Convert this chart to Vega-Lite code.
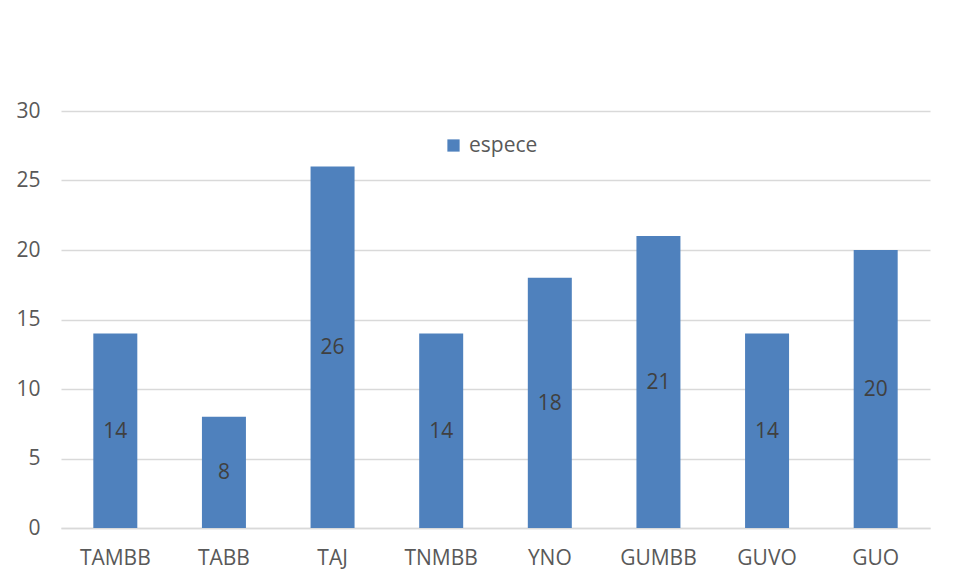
{
  "$schema": "https://vega.github.io/schema/vega-lite/v6.json",
  "width": 869,
  "height": 417,
  "autosize": {"type": "none"},
  "padding": {"left": 61, "top": 111, "right": 29, "bottom": 53},
  "background": "#ffffff",
  "config": {
    "view": {"stroke": null},
    "font": "Open Sans",
    "axis": {"labelFont": "Open Sans", "labelFontSize": 21, "labelColor": "#595959", "ticks": false, "title": null}
  },
  "data": {
    "values": [
      {"site": "TAMBB", "n": 14, "serie": "espece"},
      {"site": "TABB", "n": 8, "serie": "espece"},
      {"site": "TAJ", "n": 26, "serie": "espece"},
      {"site": "TNMBB", "n": 14, "serie": "espece"},
      {"site": "YNO", "n": 18, "serie": "espece"},
      {"site": "GUMBB", "n": 21, "serie": "espece"},
      {"site": "GUVO", "n": 14, "serie": "espece"},
      {"site": "GUO", "n": 20, "serie": "espece"}
    ]
  },
  "encoding": {
    "x": {
      "field": "site",
      "type": "nominal",
      "sort": null,
      "scale": {"paddingInner": 0.595, "paddingOuter": 0.2975},
      "axis": {"labelAngle": 0, "labelPadding": 19, "domainColor": "#d9d9d9", "domainWidth": 1.5}
    }
  },
  "layer": [
    {
      "mark": {"type": "bar", "color": "#4f81bd"},
      "encoding": {
        "y": {
          "field": "n",
          "type": "quantitative",
          "scale": {"domain": [0, 30], "nice": false},
          "axis": {"values": [0, 5, 10, 15, 20, 25, 30], "domain": false, "gridColor": "#d9d9d9", "gridWidth": 1.5, "labelPadding": 21}
        },
        "color": {
          "field": "serie",
          "type": "nominal",
          "scale": {"range": ["#4f81bd"]},
          "legend": {
            "title": null,
            "orient": "none",
            "legendX": 382,
            "legendY": 24,
            "symbolType": "square",
            "symbolSize": 150,
            "symbolStrokeWidth": 0,
            "labelFont": "Open Sans",
            "labelFontSize": 21,
            "labelColor": "#595959",
            "labelOffset": 5
          }
        }
      }
    },
    {
      "mark": {"type": "text", "font": "Open Sans", "fontSize": 21, "color": "#404040", "baseline": "middle", "dy": 1},
      "encoding": {
        "y": {
          "field": "n",
          "type": "quantitative",
          "scale": {"domain": [0, 60], "nice": false},
          "axis": null
        },
        "text": {"field": "n", "type": "quantitative"}
      }
    }
  ],
  "resolve": {"scale": {"y": "independent"}}
}
